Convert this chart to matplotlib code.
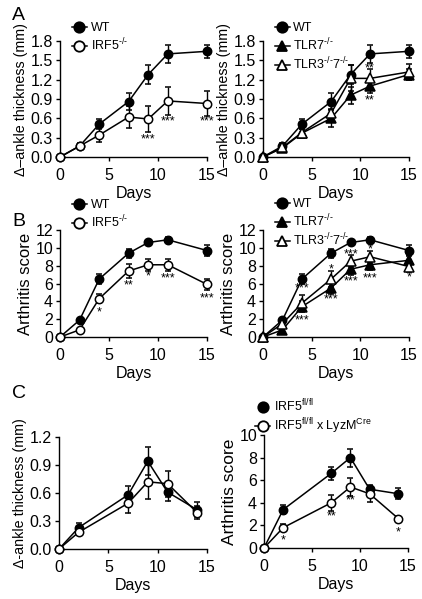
import numpy as np
import matplotlib.pyplot as plt
from matplotlib.lines import Line2D

plt.rcParams['font.family'] = ['Liberation Sans', 'DejaVu Sans']
plt.rcParams['font.size'] = 10
plt.rcParams['mathtext.fontset'] = 'custom'
plt.rcParams['mathtext.rm'] = 'Liberation Sans'
plt.rcParams['mathtext.it'] = 'Liberation Sans:italic'
plt.rcParams['mathtext.bf'] = 'Liberation Sans:bold'

# ---- data ----
days_ab = [0, 2, 4, 7, 9, 11, 15]
days_c = [0, 2, 7, 9, 11, 14]

# A: ankle thickness (mm)
a_wt = [0, 0.17, 0.51, 0.86, 1.28, 1.60, 1.64]
a_wt_err = [0, 0.04, 0.08, 0.13, 0.15, 0.14, 0.10]
a_irf5 = [0, 0.17, 0.34, 0.62, 0.59, 0.87, 0.83]
a_irf5_err = [0, 0.03, 0.11, 0.17, 0.20, 0.22, 0.19]
a_tlr7 = [0, 0.14, 0.37, 0.60, 0.96, 1.10, 1.28]
a_tlr7_err = [0, 0.03, 0.08, 0.14, 0.13, 0.10, 0.08]
a_tlr37 = [0, 0.15, 0.38, 0.68, 1.22, 1.22, 1.32]
a_tlr37_err = [0, 0.03, 0.06, 0.12, 0.20, 0.15, 0.13]

# B: arthritis score
b_wt = [0, 1.9, 6.5, 9.4, 10.6, 10.9, 9.7]
b_wt_err = [0, 0.2, 0.6, 0.5, 0.3, 0.3, 0.6]
b_irf5 = [0, 0.8, 4.3, 7.4, 8.1, 8.1, 5.9]
b_irf5_err = [0, 0.2, 0.5, 0.8, 0.7, 0.7, 0.6]
b_tlr7 = [0, 0.8, 3.4, 5.5, 7.6, 8.1, 8.6]
b_tlr7_err = [0, 0.2, 0.6, 0.7, 0.7, 0.6, 0.6]
b_tlr37 = [0, 1.5, 3.8, 6.5, 8.5, 9.0, 7.9]
b_tlr37_err = [0, 0.3, 0.9, 0.9, 0.7, 0.7, 0.6]

# C: conditional knockout
c_ank_fl = [0, 0.23, 0.58, 0.94, 0.61, 0.42]
c_ank_fl_err = [0, 0.05, 0.10, 0.15, 0.10, 0.08]
c_ank_cre = [0, 0.18, 0.49, 0.72, 0.70, 0.39]
c_ank_cre_err = [0, 0.03, 0.10, 0.18, 0.14, 0.07]
c_sc_fl = [0, 3.4, 6.6, 8.0, 5.2, 4.8]
c_sc_fl_err = [0, 0.4, 0.6, 0.8, 0.4, 0.5]
c_sc_cre = [0, 1.8, 4.0, 5.4, 4.8, 2.6]
c_sc_cre_err = [0, 0.3, 0.7, 0.8, 0.7, 0.2]

# significance marks: (day, y, text)
stars_a_left = [(9, 0.28, '***'), (11, 0.55, '***'), (15, 0.55, '***')]
stars_a_right = [(11, 1.38, '**'), (11, 0.88, '**')]
stars_b_left = [(4, 2.8, '*'), (7, 5.8, '**'), (9, 6.8, '*'), (11, 6.6, '***'), (15, 4.3, '***')]
stars_b_right = [(4, 5.4, '***'), (4, 1.9, '***'), (7, 7.6, '*'), (7, 4.2, '***'),
                 (9, 9.3, '***'), (9, 6.2, '***'), (11, 9.8, '*'), (11, 6.6, '***'), (15, 6.7, '*')]
stars_c_right = [(2, 0.7, '*'), (7, 2.8, '**'), (9, 4.2, '**'), (14, 1.4, '*')]

KO = '$^{\\text{-/-}}$'
lab_wt = 'WT'
lab_irf5 = 'IRF5' + KO
lab_tlr7 = 'TLR7' + KO
lab_tlr37 = 'TLR3' + KO + '7' + KO
lab_fl = 'IRF5$^{\\text{fl/fl}}$'
lab_cre = 'IRF5$^{\\text{fl/fl}}$ x LyzM$^{\\text{Cre}}$'

W, H = 422, 599
fig = plt.figure(figsize=(W / 100, H / 100), dpi=100)


def make_ax(x0, x1, ytop, ybot):
    return fig.add_axes([x0 / W, 1 - ybot / H, (x1 - x0) / W, (ybot - ytop) / H])


def series(ax, x, y, e, marker, filled):
    ax.errorbar(x, y, yerr=e, fmt='-' + marker, color='k', mfc='k' if filled else 'white',
                mec='k', mew=1.1, ms=6 if marker == 'o' else 6.5, lw=1.1, elinewidth=1,
                capsize=2.5, capthick=1, clip_on=False, zorder=3)


def handle(marker, filled, line=True):
    return Line2D([], [], color='k', ls='-' if line else 'none', lw=1.1, marker=marker,
                  mfc='k' if filled else 'white', mec='k', mew=1.3, ms=7.5)


def style(ax, ymax, ystep, fmt, ylabel, ysize):
    ax.set_xlim(0, 15)
    ax.set_ylim(0, ymax)
    ax.set_xticks([0, 5, 10, 15])
    ax.set_yticks(np.arange(0, ymax + 1e-9, ystep))
    ax.yaxis.set_major_formatter(plt.FormatStrFormatter(fmt))
    for s in ['top', 'right']:
        ax.spines[s].set_visible(False)
    for s in ['left', 'bottom']:
        ax.spines[s].set_linewidth(1)
    ax.tick_params(length=3, width=1, labelsize=11.5, pad=2)
    ax.tick_params(axis='x', pad=5)
    ax.set_xlabel('Days', fontsize=11.5, labelpad=2)
    ax.set_ylabel(ylabel, fontsize=ysize, labelpad=2)


def stars(ax, marks):
    for d, y, t in marks:
        ax.text(d, y, t, ha='center', va='center', fontsize=9)


def leg(ax, handles, labels, x, y):
    ax.legend(handles, labels, loc='upper left', bbox_to_anchor=(x, y), frameon=False,
              fontsize=9, handlelength=1.2, handletextpad=0.3, labelspacing=0.2,
              borderpad=0, borderaxespad=0)


ank = '\u0394\u2013ankle thickness (mm)'

# A left
ax = make_ax(60, 207, 41, 157)
series(ax, days_ab, a_wt, a_wt_err, 'o', True)
series(ax, days_ab, a_irf5, a_irf5_err, 'o', False)
style(ax, 1.8, 0.3, '%.1f', ank, 10.3)
stars(ax, stars_a_left)
leg(ax, [handle('o', True), handle('o', False)], [lab_wt, lab_irf5], 0.08, 1.16)

# A right
ax = make_ax(263, 409, 41, 157)
series(ax, days_ab, a_wt, a_wt_err, 'o', True)
series(ax, days_ab, a_tlr7, a_tlr7_err, '^', True)
series(ax, days_ab, a_tlr37, a_tlr37_err, '^', False)
style(ax, 1.8, 0.3, '%.1f', ank, 10.3)
stars(ax, stars_a_right)
leg(ax, [handle('o', True), handle('^', True), handle('^', False)],
    [lab_wt, lab_tlr7, lab_tlr37], 0.08, 1.16)

# B left
ax = make_ax(60, 207, 230, 337)
series(ax, days_ab, b_wt, b_wt_err, 'o', True)
series(ax, days_ab, b_irf5, b_irf5_err, 'o', False)
style(ax, 12, 2, '%d', 'Arthritis score', 12)
stars(ax, stars_b_left)
leg(ax, [handle('o', True), handle('o', False)], [lab_wt, lab_irf5], 0.08, 1.29)

# B right
ax = make_ax(263, 409, 230, 337)
series(ax, days_ab, b_wt, b_wt_err, 'o', True)
series(ax, days_ab, b_tlr7, b_tlr7_err, '^', True)
series(ax, days_ab, b_tlr37, b_tlr37_err, '^', False)
style(ax, 12, 2, '%d', 'Arthritis score', 12)
stars(ax, stars_b_right)
leg(ax, [handle('o', True), handle('^', True), handle('^', False)],
    [lab_wt, lab_tlr7, lab_tlr37], 0.08, 1.30)

# C left
ax = make_ax(59, 207, 437, 549)
series(ax, days_c, c_ank_fl, c_ank_fl_err, 'o', True)
series(ax, days_c, c_ank_cre, c_ank_cre_err, 'o', False)
style(ax, 1.2, 0.3, '%.1f', '\u0394-ankle thickness (mm)', 10.3)

# C right
ax = make_ax(264, 408, 435, 548)
series(ax, days_c, c_sc_fl, c_sc_fl_err, 'o', True)
series(ax, days_c, c_sc_cre, c_sc_cre_err, 'o', False)
style(ax, 10, 2, '%d', 'Arthritis score', 12.5)
stars(ax, stars_c_right)
leg(ax, [handle('o', True, line=False), handle('o', False)], [lab_fl, lab_cre], -0.06, 1.33)

for lab, x, y in [('A', 12, 20), ('B', 12, 226), ('C', 12, 398)]:
    fig.text(x / W, 1 - y / H, lab, fontsize=14)

fig.savefig('out.png', dpi=100)
